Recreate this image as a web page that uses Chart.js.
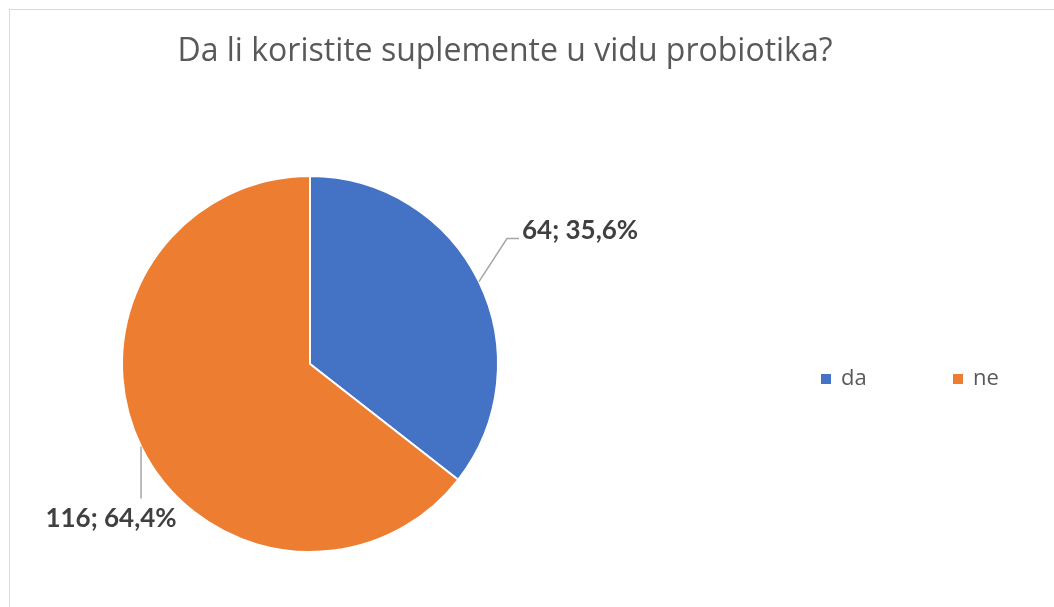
<!DOCTYPE html>
<html>
<head>
<meta charset="utf-8">
<script src="https://cdn.jsdelivr.net/npm/chart.js@4"></script>
<style>
  html, body { margin: 0; padding: 0; background: #fff; overflow: hidden; }
  #frame { position: absolute; left: 9px; top: 9px; width: 1100px; height: 700px; border: 1px solid #d9d9d9; }
  #c { position: absolute; left: 0; top: 0; }
</style>
</head>
<body>
<div id="frame"></div>
<canvas id="c" width="1054" height="607"></canvas>
<script>
const TITLE = "Da li koristite suplemente u vidu probiotika?";
const LABELS = ["da", "ne"];
const VALUES = [64, 116];
const PERCENTS = ["35,6%", "64,4%"];
const COLORS = ["#4472C4", "#ED7D31"];

// title, legend, data labels with leader lines
const decor = {
    id: "decor",
    afterDraw(chart) {
        const ctx = chart.ctx;
        ctx.save();

        // title
        ctx.fillStyle = "#595959";
        ctx.font = "32px 'Open Sans'";
        ctx.textAlign = "center";
        ctx.textBaseline = "middle";
        ctx.fillText(TITLE, 505, 52);

        // legend
        ctx.font = "22px 'Open Sans'";
        ctx.textAlign = "left";
        const legX = [821, 953];
        LABELS.forEach((lab, i) => {
            ctx.fillStyle = COLORS[i];
            ctx.fillRect(legX[i], 374, 10, 10);
            ctx.fillStyle = "#595959";
            ctx.fillText(lab, legX[i] + 20, 379);
        });

        // data labels
        const arcs = chart.getDatasetMeta(0).data;
        ctx.strokeStyle = "#a6a6a6";
        ctx.lineWidth = 1.5;
        ctx.fillStyle = "#404040";
        ctx.font = "bold 26px Lato";
        arcs.forEach((arc, i) => {
            const mid = (arc.startAngle + arc.endAngle) / 2;
            const ax = arc.x + Math.cos(mid) * arc.outerRadius;
            const ay = arc.y + Math.sin(mid) * arc.outerRadius;
            const txt = VALUES[i] + "; " + PERCENTS[i];
            ctx.beginPath();
            ctx.moveTo(ax, ay);
            if (i === 0) {
                ctx.lineTo(ax + 28, ay - 43);
                ctx.lineTo(ax + 40, ay - 43);
                ctx.stroke();
                ctx.textAlign = "left";
                ctx.fillText(txt, ax + 43, ay - 51);
            } else {
                ctx.lineTo(ax, ay + 52);
                ctx.stroke();
                ctx.textAlign = "center";
                ctx.fillText(txt, ax - 30, ay + 72);
            }
        });
        ctx.restore();
    }
};

new Chart(document.getElementById("c"), {
    type: "pie",
    data: {
        labels: LABELS,
        datasets: [{
            data: VALUES,
            backgroundColor: COLORS,
            borderColor: "#ffffff",
            borderWidth: 2,
            hoverOffset: 0
        }]
    },
    options: {
        responsive: false,
        animation: false,
        layout: { padding: { left: 121, right: 555, top: 175, bottom: 54 } },
        plugins: {
            legend: { display: false },
            title: { display: false },
            tooltip: { enabled: false }
        }
    },
    plugins: [decor]
});
</script>
</body>
</html>
